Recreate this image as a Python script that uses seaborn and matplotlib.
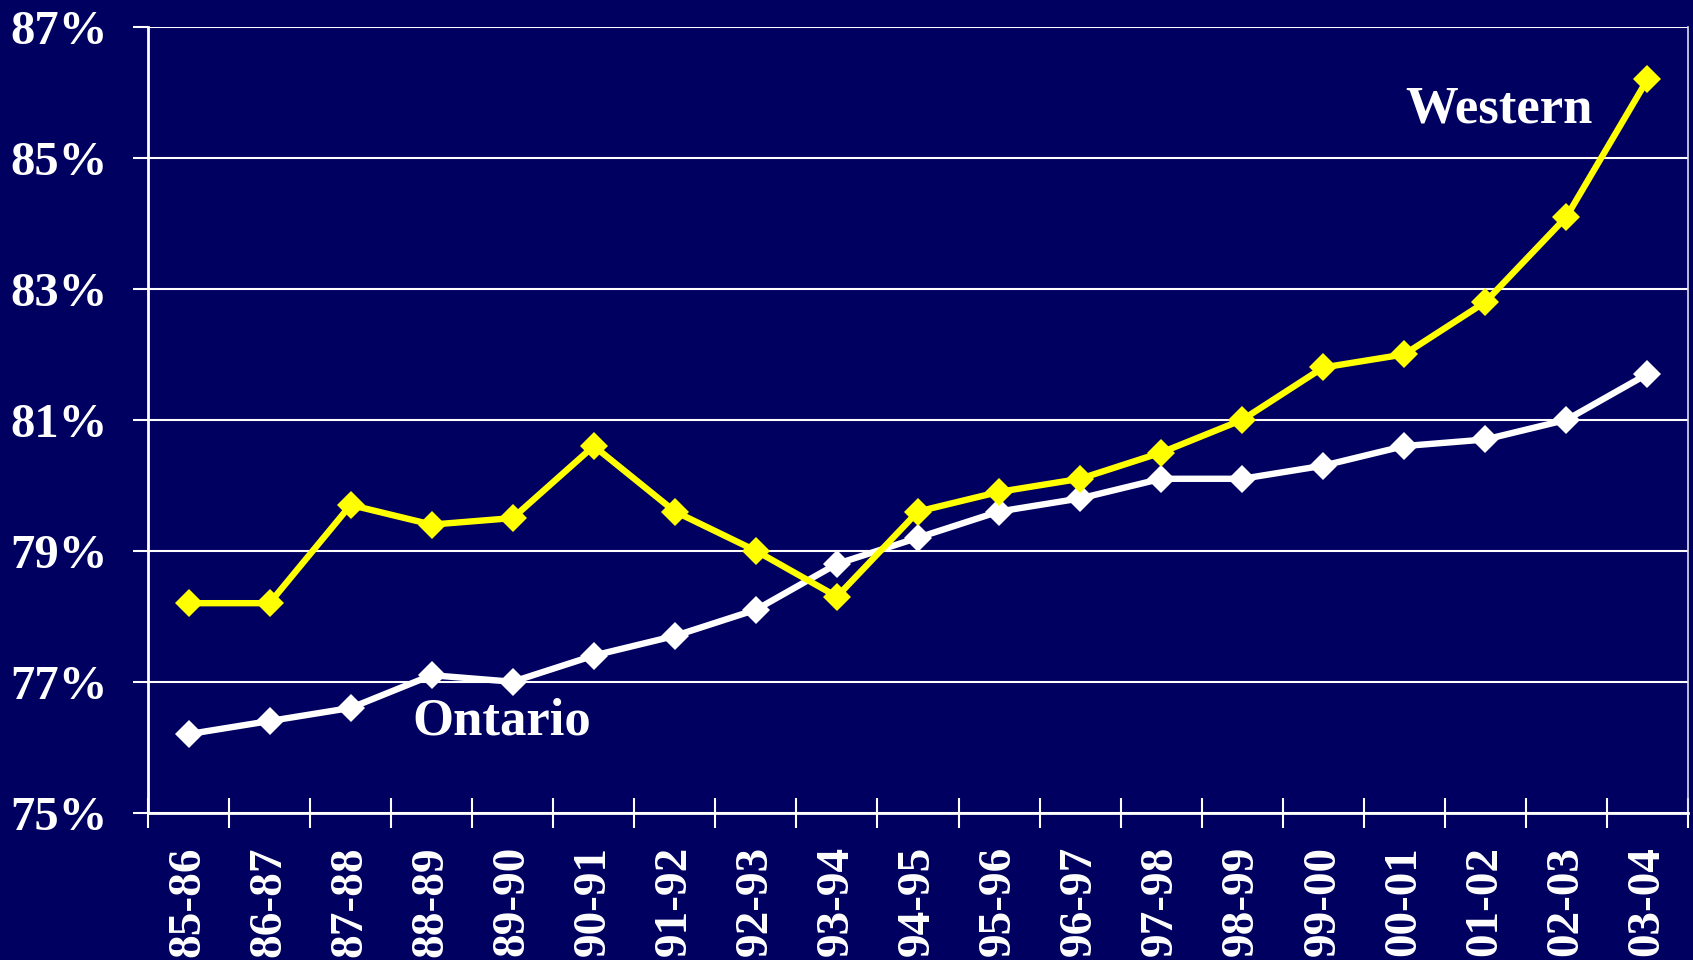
import matplotlib
matplotlib.use("Agg")
import matplotlib.pyplot as plt
import seaborn as sns
import pandas as pd
import numpy as np

years = ["85-86", "86-87", "87-88", "88-89", "89-90", "90-91", "91-92", "92-93",
         "93-94", "94-95", "95-96", "96-97", "97-98", "98-99", "99-00", "00-01",
         "01-02", "02-03", "03-04"]
western = [78.2, 78.2, 79.7, 79.4, 79.5, 80.6, 79.6, 79.0, 78.3, 79.6, 79.9,
           80.1, 80.5, 81.0, 81.8, 82.0, 82.8, 84.1, 86.2]
ontario = [76.2, 76.4, 76.6, 77.1, 77.0, 77.4, 77.7, 78.1, 78.8, 79.2, 79.6,
           79.8, 80.1, 80.1, 80.3, 80.6, 80.7, 81.0, 81.7]
yticks = [75, 77, 79, 81, 83, 85, 87]

BG = "#000060"

sns.set_theme(style="white")
plt.rcParams["font.family"] = ["Liberation Serif", "DejaVu Serif"]
plt.rcParams["font.weight"] = "bold"

fig = plt.figure(figsize=(16.93, 9.6), dpi=100, facecolor=BG)
ax = fig.add_axes([148/1693, 1 - 812.7/960, (1688-148)/1693, (812.7-27)/960])
ax.set_facecolor(BG)

df = pd.DataFrame({"year": years, "Western": western, "Ontario": ontario})
x = np.arange(len(years))
df["x"] = x

sns.lineplot(data=df, x="x", y="Ontario", ax=ax, color="white", lw=4.6,
             marker="D", markersize=14.5, markeredgewidth=0, zorder=3)
sns.lineplot(data=df, x="x", y="Western", ax=ax, color="#FFFF00", lw=4.6,
             marker="D", markersize=14.5, markeredgewidth=0, zorder=4)

ax.set_xlim(-0.5, len(years) - 0.5)
ax.set_ylim(75, 87)
ax.set_yticks(yticks)
ax.set_yticklabels([f"{v}%" for v in yticks])
ax.set_xticks(x)
ax.set_xticklabels(years, rotation=90, va="top")
ax.set_xticks(np.arange(len(years) + 1) - 0.5, minor=True)
ax.set_xlabel("")
ax.set_ylabel("")

ax.grid(axis="y", color="white", lw=1.5)
ax.grid(axis="x", visible=False)
ax.set_axisbelow(True)

ax.tick_params(axis="y", left=True, length=11, width=1.5, color="white",
               pad=18, labelsize=35, labelcolor="white")
ax.tick_params(axis="x", which="major", bottom=False, length=0, pad=24,
               labelsize=34, labelcolor="white")
ax.tick_params(axis="x", which="minor", bottom=True, direction="inout",
               length=22, width=1.5, color="white")
for lab in ax.get_xticklabels() + ax.get_yticklabels():
    lab.set_fontweight("bold")

for s in ["left", "bottom"]:
    ax.spines[s].set_color("white")
    ax.spines[s].set_linewidth(2)
ax.spines["top"].set_visible(False)
ax.spines["right"].set_color("#DDDDEE")
ax.spines["right"].set_linewidth(1.2)

ax.text(16.17, 85.74, "Western", color="white", fontsize=38, fontweight="bold",
        ha="center", va="center")
ax.text(3.86, 76.4, "Ontario", color="white", fontsize=38, fontweight="bold",
        ha="center", va="center")

fig.savefig("out.png", dpi=100, facecolor=BG)
